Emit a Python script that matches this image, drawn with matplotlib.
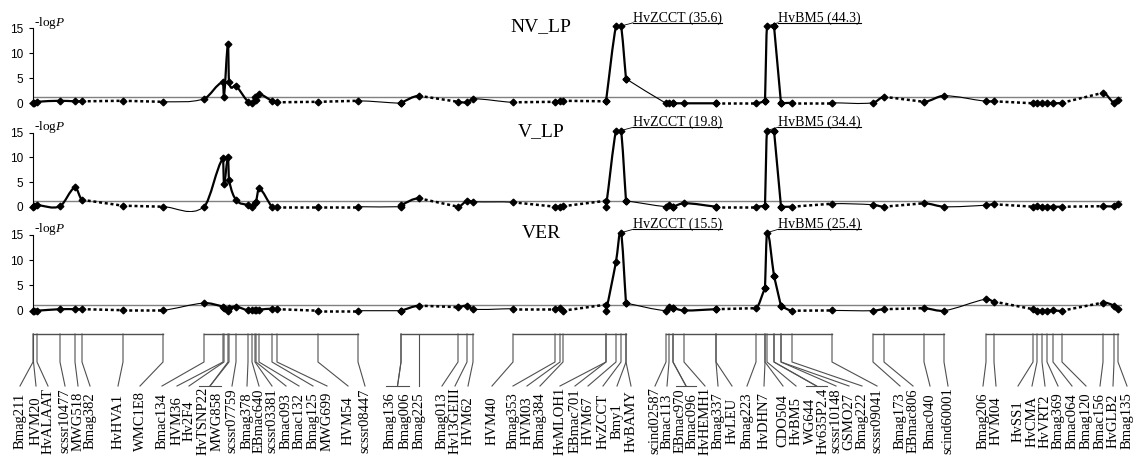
import numpy as np
import matplotlib
matplotlib.use("Agg")
import matplotlib.pyplot as plt
from matplotlib.path import Path
from matplotlib.patches import PathPatch

plt.rcParams['mathtext.fontset'] = 'custom'
plt.rcParams['mathtext.rm'] = 'Liberation Serif'
plt.rcParams['mathtext.it'] = 'Liberation Serif:italic'

# ---------------- data ----------------
chrom = ([1]*8 + [2]*15 + [3]*6 + [4]*10 + [5]*17 + [6]*4 + [7]*11)
markers = ["Bmag211", "HVM20", "HvALAAT", "scssr10477", "MWG518", "Bmag382", "HvHVA1", "WMC1E8",
           "Bmac134", "HVM36", "Hv2F4", "HvTSNP22", "MWG858", "scssr07759", "Bmag378", "EBmac640",
           "scssr03381", "Bmac093", "Bmac132", "Bmag125", "MWG699", "HVM54", "scssr08447",
           "Bmag136", "Bmag006", "Bmag225", "Bmag013", "Hv13GEIII", "HVM62",
           "HVM40", "Bmag353", "HVM03", "Bmag384", "HvMLOH1", "EBmac701", "HVM67", "HvZCCT", "Bmy1", "HvBAMY",
           "scind02587", "Bmac113", "EBmac970", "Bmac096", "HvHEMH1", "Bmag337", "HvLEU", "Bmag223",
           "HvDHN7", "CDO504", "HvBM5", "WG644", "Hv635P2.4", "scssr10148", "GSMO27", "Bmag222", "scssr09041",
           "Bmag173", "EBmac806", "Bmac040", "scind60001",
           "Bmag206", "HVM04", "HvSS1", "HvCMA", "HvVRT2", "Bmag369", "Bmac064", "Bmag120", "Bmac156",
           "HvGLB2", "Bmag135"]
# cumulative map position (same scale as the plot x axis)
map_pos = [33, 33.5, 37, 60, 75, 82, 123, 163,
           204, 223, 224, 228, 229, 236, 248, 252, 255, 256, 259, 272, 277, 318, 358,
           401, 401, 419, 458, 467, 473,
           513, 555, 560, 563, 606, 606, 616, 621, 626, 626,
           666, 669, 673, 673, 684, 716, 716, 756, 765, 765, 767, 774, 774, 781, 781, 792, 832,
           873, 884, 924, 944,
           986, 994, 1033, 1037, 1042, 1047, 1053, 1062, 1103, 1114, 1118]
# -logP values as displayed (values above the axis top are shown clipped)
nv_lp = [0.0, 0.1, 0.3, 0.5, 0.4, 0.4, 0.5, 0.3,
         0.9, 4.2, 1.3, 11.9, 4.3, 3.5, 0.3, 0.0, 1.2, 0.7, 1.8, 0.5, 0.2, 0.3, 0.5,
         0.0, 0.1, 1.5, 0.3, 0.2, 0.9,
         0.2, 0.3, 0.5, 0.5, 0.4, 0.4, 15.45, 15.45, 4.9, 4.9,
         0.0, 0.0, 0.0, 0.0, 0.0, 0.0, 0.0, 0.0, 0.4, 0.4, 15.45, 15.45, 15.45, 0.0, 0.0, 0.1, 0.1,
         0.1, 1.3, 0.3, 1.5,
         0.4, 0.4, 0.0, 0.0, 0.0, 0.0, 0.0, 0.1, 2.1, 0.1, 0.7]
v_lp = [0.0, 0.1, 0.3, 0.1, 3.9, 1.4, 0.2, 0.0,
        0.0, 9.8, 4.7, 10.0, 5.5, 1.4, 0.3, 0.0, 0.7, 1.0, 3.7, 0.0, 0.0, 0.0, 0.0,
        0.0, 0.3, 1.7, 0.0, 1.2, 1.0,
        0.9, 0.0, 0.0, 0.1, 1.2, 0.0, 15.45, 15.45, 1.2, 1.2,
        0.0, 0.3, 0.0, 0.0, 0.7, 0.0, 0.0, 0.0, 0.2, 0.2, 15.45, 15.45, 15.45, 0.0, 0.0, 0.0, 0.6,
        0.4, 0.0, 0.7, 0.0,
        0.3, 0.5, 0.0, 0.2, 0.0, 0.0, 0.0, 0.0, 0.1, 0.1, 0.5]
ver = [0.0, 0.0, 0.0, 0.3, 0.3, 0.3, 0.1, 0.1,
       1.5, 0.8, 0.5, 0.0, 0.5, 0.8, 0.05, 0.05, 0.2, 0.05, 0.2, 0.4, 0.3, 0.0, 0.0,
       0.0, 0.0, 1.0, 0.7, 1.0, 0.3,
       0.4, 0.4, 0.5, 0.0, 1.2, 0.0, 9.7, 15.45, 1.5, 1.5,
       0.0, 0.8, 0.5, 0.5, 0.05, 0.3, 0.3, 0.5, 4.5, 4.5, 15.45, 6.9, 6.9, 0.9, 0.9, 0.0, 0.05,
       0.0, 0.3, 0.5, 0.0,
       2.3, 1.8, 0.3, 0.0, 0.0, 0.0, 0.05, 0.0, 1.6, 1.0, 0.3]
traits = ["NV_LP", "V_LP", "VER"]
trait_values = [nv_lp, v_lp, ver]
peak_notes = [[("HvZCCT", "HvZCCT (35.6)"), ("HvBM5", "HvBM5 (44.3)")],
              [("HvZCCT", "HvZCCT (19.8)"), ("HvBM5", "HvBM5 (34.4)")],
              [("HvZCCT", "HvZCCT (15.5)"), ("HvBM5", "HvBM5 (25.4)")]]
# marker pairs whose map labels share one bracket
label_pairs = [("HvTSNP22", "MWG858"), ("Bmag136", "Bmag006"),
               ("EBmac970", "Bmac096"), ("WG644", "Hv635P2.4")]
threshold = 1.2
yticks = [0, 5, 10, 15]

# ---------------- layout ----------------
W, H = 1141, 459
X0, X1 = 33, 1122
YTOP = 15.45
# (pixel y of value 0, pixels per unit) for each panel
panel_px = [(103.3, 5.0), (206.7, 4.93), (310.7, 5.05)]
label_x = [20, 36, 48, 65, 78, 90, 118, 140,
           162, 177, 189, 203, 217, 232, 247, 259, 272, 286, 299, 313, 327, 348, 365,
           390, 405, 419, 442, 455, 468,
           492, 513, 527, 540, 560, 575, 588, 603, 617, 631,
           655, 667, 680, 692, 705, 718, 732, 747, 764, 783, 796, 810, 823, 836, 849, 862, 877,
           900, 913, 930, 948,
           983, 996, 1018, 1032, 1045, 1058, 1072, 1086, 1100, 1113, 1127]
ANN_X = {"HvZCCT": 633, "HvBM5": 778}
SERIF = "Liberation Serif"

fig = plt.figure(figsize=(W/100, H/100), dpi=100)

x = np.array(map_pos, float)
ch = np.array(chrom)


def slopes(xv, yv):
    n = len(xv)
    m = np.zeros(n)
    for i in range(n):
        a = max(i-1, 0)
        b = min(i+1, n-1)
        if xv[b] != xv[a]:
            m[i] = (yv[b]-yv[a])/(xv[b]-xv[a])
    return m


axes = []
for k, (name, vals) in enumerate(zip(traits, trait_values)):
    y0px, s = panel_px[k]
    ylo = -1.0
    bot = y0px - ylo*s
    top = y0px - YTOP*s
    ax = fig.add_axes([X0/W, 1-bot/H, (X1-X0)/W, (bot-top)/H])
    ax.set_xlim(X0, X1)
    ax.set_ylim(ylo, YTOP)
    axes.append(ax)
    for sp in ["top", "right", "bottom"]:
        ax.spines[sp].set_visible(False)
    ax.spines["left"].set_bounds(0, 15)
    ax.spines["left"].set_linewidth(0.8)
    ax.set_xticks([])
    ax.set_yticks(yticks)
    ax.tick_params(axis="y", direction="out", length=3, width=0.8, pad=4, labelsize=8.5)
    for t in ax.get_yticklabels():
        t.set_family("Liberation Sans")
    ax.patch.set_alpha(0)

    ax.axhline(threshold, color="#808080", lw=1.0, zorder=1)

    yv = np.array(vals, float)
    m = slopes(x, yv)
    for i in range(len(x)-1):
        h = x[i+1]-x[i]
        if ch[i] != ch[i+1]:
            style = dict(lw=0.8, ls="-")
            smooth = True
        elif h > 35:
            style = dict(lw=1.8, ls=(0, (1.2, 1.1)))
            smooth = False
        else:
            style = dict(lw=1.6, ls="-")
            smooth = True
        if smooth:
            verts = [(x[i], yv[i]), (x[i]+h/3, yv[i]+m[i]*h/3),
                     (x[i+1]-h/3, yv[i+1]-m[i+1]*h/3), (x[i+1], yv[i+1])]
            codes = [Path.MOVETO, Path.CURVE4, Path.CURVE4, Path.CURVE4]
        else:
            verts = [(x[i], yv[i]), (x[i+1], yv[i+1])]
            codes = [Path.MOVETO, Path.LINETO]
        ax.add_patch(PathPatch(Path(verts, codes), fill=False, color="black",
                               capstyle="butt", zorder=2, **style))
    ax.plot(x, yv, ls="none", marker="D", ms=3.4, color="black", zorder=3, clip_on=False)

    ax.text(541, 14.4, name, ha="center", va="baseline", family=SERIF, fontsize=14)
    ax.text(34.5, 15.5, "-log$\\mathit{P}$", ha="left", va="baseline", family=SERIF, fontsize=9.5)

    for mk, txt in peak_notes[k]:
        idx = markers.index(mk)
        tx = ANN_X[mk]
        t = ax.text(tx, 16.35, txt, ha="left", va="baseline", family=SERIF, fontsize=10,
                    clip_on=False)
        ax._ann = getattr(ax, "_ann", []) + [(t, x[idx], yv[idx], tx)]

# underline annotations (need text widths)
fig.canvas.draw()
for ax in axes:
    for t, px, py, tx in ax._ann:
        bb = t.get_window_extent()
        inv = ax.transData.inverted()
        (xa, _), (xb, _) = inv.transform([(bb.x0, bb.y0), (bb.x1, bb.y0)])
        ax.plot([xa, xb], [16.1, 16.1], color="black", lw=0.8, clip_on=False)
        ax.plot([px, xa], [py, 16.1], color="black", lw=0.6, clip_on=False)

# ---------------- genetic map ----------------
mp = fig.add_axes([0, 0, 1, 1])
mp.set_xlim(0, W)
mp.set_ylim(H, 0)
mp.axis("off")
mp.patch.set_alpha(0)
CHR_Y, KNEE_Y, LAB_Y, TXT_Y = 334, 362, 386, 421
mcol = "#505050"
for c in sorted(set(chrom)):
    sel = x[ch == c]
    mp.plot([sel.min(), sel.max()], [CHR_Y, CHR_Y], color=mcol, lw=1.0)

end_x = list(label_x)
for a, b in label_pairs:
    ia, ib = markers.index(a), markers.index(b)
    xa, xb = label_x[ia] - 4, label_x[ib] + 4
    mp.plot([xa, xb], [LAB_Y, LAB_Y], color=mcol, lw=0.8)
    end_x[ia] = end_x[ib] = (xa + xb) / 2

for i in range(len(x)):
    mp.plot([x[i], x[i], end_x[i]], [CHR_Y, KNEE_Y, LAB_Y], color=mcol, lw=0.8)
    mp.text(label_x[i], TXT_Y, markers[i], rotation=90, ha="center", va="center",
            family=SERIF, fontsize=10.5)

fig.savefig("out.png", dpi=100)
